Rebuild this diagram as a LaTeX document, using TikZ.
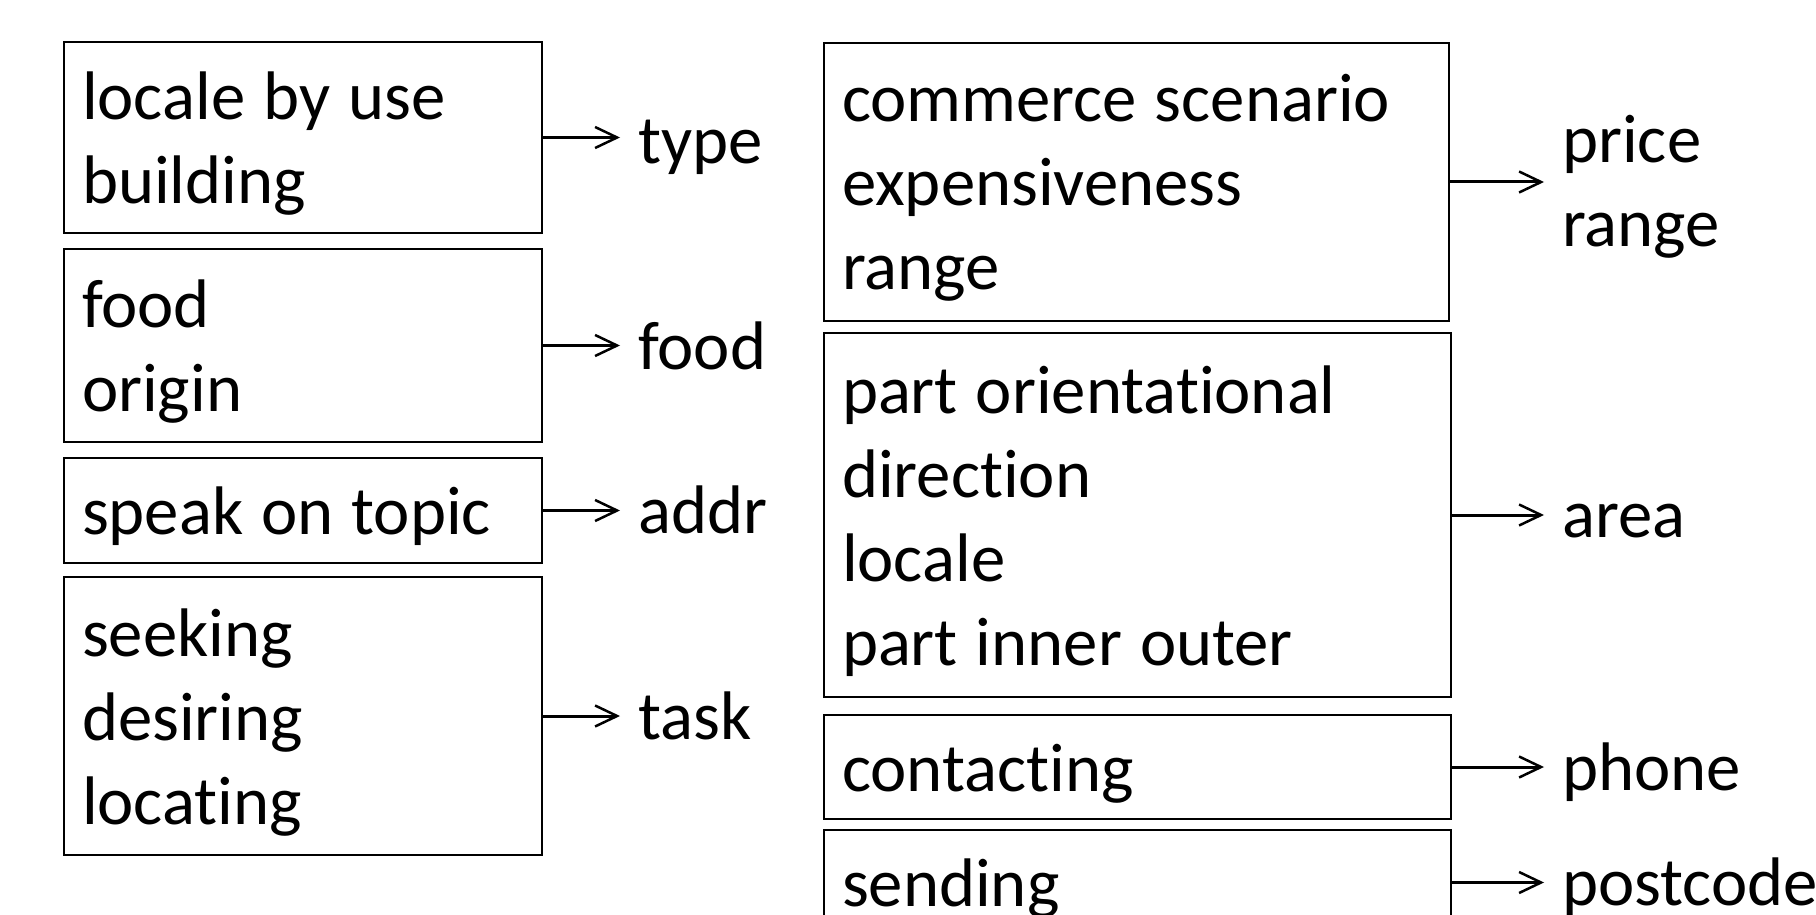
\documentclass[tikz,border=0pt]{standalone}
\usepackage{fontspec}
\setmainfont[Ligatures={NoCommon}]{Carlito}
\usetikzlibrary{arrows.meta}
\newcommand{\mystrut}{\rule[-18pt]{0pt}{84pt}}
\newcommand{\myfont}{\fontsize{68.7}{84}\selectfont\spaceskip=18pt plus 2pt minus 2pt\relax}
\tikzset{
  box/.style={draw=black, line width=2pt, rectangle, anchor=north west,
    inner xsep=18pt, inner ysep=0pt, align=flush left, font=\myfont},
  lab/.style={anchor=west, inner xsep=18pt, inner ysep=0pt, align=flush left,
    text width=260pt, font=\myfont},
  arr/.style={line width=3pt, -{Straight Barb[length=22pt,width=21pt,line width=2.5pt]}}
}
\begin{document}
\begin{tikzpicture}[x=1pt,y=-1pt]
\useasboundingbox (0,0) rectangle (1816,915);
\clip (0,0) rectangle (1816,915);
% left column
\node[box, text width=442pt, minimum height=191pt] (b1) at (63,41) {\mystrut locale by use\\\mystrut building};
\node[box, text width=442pt, minimum height=193pt] (b2) at (63,248) {\mystrut food\\\mystrut origin};
\node[box, text width=442pt, minimum height=105pt] (b3) at (63,457) {\mystrut speak on topic};
\node[box, text width=442pt, minimum height=278pt] (b4) at (63,576) {\mystrut seeking\\\mystrut desiring\\\mystrut locating};
% right column
\node[box, text width=589pt, minimum height=278pt] (b5) at (823,42) {\mystrut commerce scenario\\\mystrut expensiveness\\\mystrut range};
\node[box, text width=591pt, minimum height=364pt] (b6) at (823,332) {\mystrut part orientational\\\mystrut direction\\\mystrut locale\\\mystrut part inner outer};
\node[box, text width=591pt, minimum height=104pt] (b7) at (823,714) {\mystrut contacting};
\node[box, text width=591pt, minimum height=105pt] (b8) at (823,829) {\mystrut sending};
% labels
\node[lab] (l1) at (620,140) {\mystrut type};
\node[lab] (l2) at (620,345) {\mystrut food};
\node[lab] (l3) at (620,509) {\mystrut addr};
\node[lab] (l4) at (620,715) {\mystrut task};
\node[lab] (l5) at (1544,181) {\mystrut price\\\mystrut range};
\node[lab] (l6) at (1544,513) {\mystrut area};
\node[lab] (l7) at (1544,766) {\mystrut phone};
\node[lab] (l8) at (1544,881) {\mystrut postcode};
% connectors
\foreach \i in {1,...,8} {\draw[arr] (b\i.east) -- (b\i.east -| l\i.west);}
\end{tikzpicture}
\end{document}
